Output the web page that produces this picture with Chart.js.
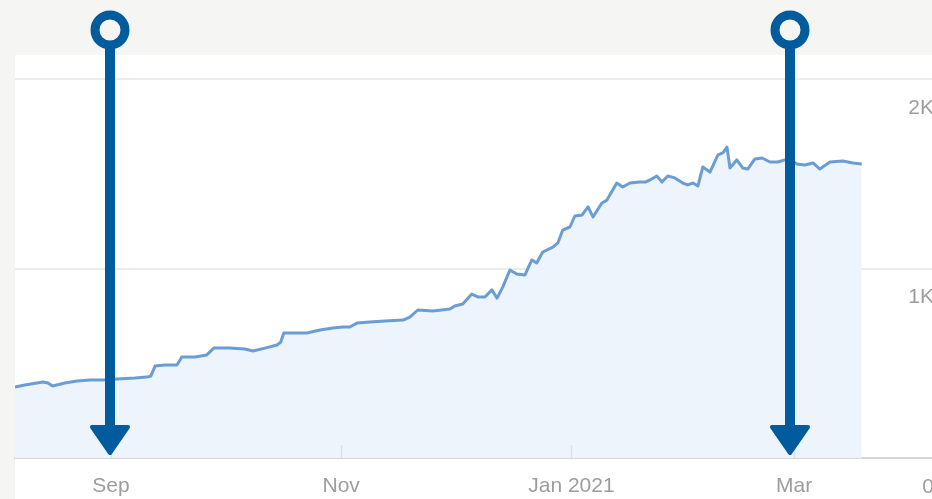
<!DOCTYPE html>
<html>
<head>
<meta charset="utf-8">
<script src="https://cdn.jsdelivr.net/npm/chart.js@4"></script>
<style>
  html, body { margin: 0; padding: 0; background: #f5f5f4; overflow: hidden; }
  #wrap { position: absolute; left: 0; top: 0; width: 960px; height: 499px; }
</style>
</head>
<body>
<div id="wrap"><canvas id="growthChart" width="960" height="499"></canvas></div>
<script>
// x values are days counted from 1 Sep 2020
const days = [
  -25.4, -22.8, -18.0, -16.7, -15.4, -12.2, -9.0, -5.6, -2.1, 1.6,
  6.4, 9.5, 10.6, 11.7, 14.3, 17.5, 18.8, 22.3, 25.4, 26.5,
  27.3, 31.5, 35.5, 37.6, 40.8, 44.0, 45.0, 45.8, 50.1, 51.9,
  55.4, 58.8, 61.5, 63.3, 65.2, 68.6, 72.6, 77.4, 79.2, 81.3,
  85.3, 89.8, 91.1, 93.2, 95.6, 97.2, 99.1, 100.9, 102.3, 103.8,
  105.7, 107.5, 109.7, 111.5, 112.8, 114.4, 117.1, 118.4, 119.7, 121.6,
  122.9, 124.8, 126.4, 127.7, 130.1, 131.4, 134.0, 135.6, 137.5, 140.1,
  141.5, 142.8, 144.6, 146.0, 147.5, 149.4, 151.5, 152.8, 154.2, 155.5,
  156.8, 158.7, 160.8, 162.1, 163.2, 164.0, 165.8, 167.4, 168.7, 170.6,
  172.5, 174.6, 176.7, 178.5, 180.1, 181.7, 183.8, 186.0, 187.8, 190.5,
  193.9, 196.6, 198.9
];
const values = [
  375, 385, 401, 396, 380, 396, 406, 412, 412, 417,
  422, 427, 433, 485, 491, 491, 533, 533, 544, 565,
  580, 580, 575, 565, 580, 596, 612, 660, 660, 660,
  675, 686, 691, 691, 712, 718, 723, 728, 744, 781,
  776, 786, 802, 813, 865, 850, 850, 887, 844, 902,
  992, 971, 966, 1045, 1029, 1087, 1113, 1135, 1203, 1219,
  1277, 1282, 1325, 1272, 1346, 1361, 1451, 1430, 1451, 1456,
  1456, 1467, 1488, 1456, 1488, 1478, 1451, 1441, 1451, 1435,
  1536, 1509, 1599, 1610, 1641, 1530, 1573, 1530, 1525, 1578,
  1583, 1562, 1562, 1573, 1573, 1551, 1546, 1557, 1525, 1562,
  1567, 1557, 1551
];
const tickDays = [0, 61, 122, 181];
const tickLabels = ['Sep', 'Nov', 'Jan 2021', 'Mar'];
const yTicks = [0, 1000, 2000];
const yTickLabels = ['0', '1K', '2K'];
const markerDays = [-0.3, 180];

const labelFont = { family: "'Liberation Sans', Arial, sans-serif", size: 21 };
const labelColor = '#9d9d9d';
const markerColor = '#015c9e';

// grey page with white panel behind the chart, arrows on top
const pagePlugin = {
  id: 'page',
  beforeDraw(chart) {
    const c = chart.ctx;
    c.save();
    c.fillStyle = '#f5f5f4';
    c.fillRect(0, 0, chart.width, chart.height);
    c.fillStyle = '#ffffff';
    c.fillRect(15, 55, chart.width - 15, chart.height - 55);
    c.restore();
  },
  afterDatasetsDraw(chart) {
    // short inner tick marks at the month labels
    const c = chart.ctx;
    const area = chart.chartArea;
    c.save();
    c.strokeStyle = '#e0e0e0';
    c.lineWidth = 1.5;
    tickDays.forEach(d => {
      const x = Math.round(chart.scales.x.getPixelForValue(d)) + 0.5;
      c.beginPath();
      c.moveTo(x, area.bottom - 13);
      c.lineTo(x, area.bottom);
      c.stroke();
    });
    c.restore();
  },
  afterDraw(chart) {
    const c = chart.ctx;
    const area = chart.chartArea;
    c.save();
    c.fillStyle = markerColor;
    c.strokeStyle = markerColor;
    markerDays.forEach(d => {
      const x = Math.round(chart.scales.x.getPixelForValue(d));
      const tip = area.bottom - 3;
      // ring
      c.lineWidth = 9;
      c.beginPath();
      c.arc(x, 30, 15, 0, Math.PI * 2);
      c.stroke();
      // shaft
      c.fillRect(x - 5, 44, 10, tip - 30 - 44 + 2);
      // head
      c.lineWidth = 4;
      c.lineJoin = 'round';
      c.beginPath();
      c.moveTo(x - 18, tip - 28);
      c.lineTo(x + 18, tip - 28);
      c.lineTo(x, tip - 2);
      c.closePath();
      c.fill();
      c.stroke();
    });
    c.restore();
  }
};

const ctx = document.getElementById('growthChart').getContext('2d');

new Chart(ctx, {
  type: 'line',
  data: {
    datasets: [{
      data: days.map((d, i) => ({ x: d, y: values[i] })),
      borderColor: '#6b9dd5',
      borderWidth: 3,
      backgroundColor: '#eef4fc',
      fill: 'origin',
      tension: 0,
      pointRadius: 0,
      borderJoinStyle: 'round'
    }]
  },
  options: {
    responsive: false,
    animation: false,
    devicePixelRatio: 1,
    layout: { padding: { left: 15, top: 79, right: 0, bottom: 0 } },
    plugins: {
      legend: { display: false },
      tooltip: { enabled: false }
    },
    scales: {
      x: {
        type: 'linear',
        min: -25.4,
        max: -25.4 + 945 / 3.775,
        afterFit: axis => { axis.height = 41; },
        afterBuildTicks: axis => { axis.ticks = tickDays.map(v => ({ value: v })); },
        grid: { display: false },
        border: { display: true, color: '#d6d6d6', width: 2 },
        ticks: {
          color: labelColor,
          font: labelFont,
          padding: 8,
          maxRotation: 0,
          autoSkip: false,
          callback: v => tickLabels[tickDays.indexOf(v)]
        }
      },
      y: {
        position: 'right',
        min: 0,
        max: 2000,
        afterFit: axis => { axis.width = 0; },
        afterBuildTicks: axis => { axis.ticks = yTicks.map(v => ({ value: v })); },
        grid: { color: '#ececec', lineWidth: 2, drawTicks: false },
        border: { display: false },
        ticks: {
          mirror: true,
          padding: -26,
          labelOffset: 29,
          color: labelColor,
          font: labelFont,
          callback: v => yTickLabels[yTicks.indexOf(v)]
        }
      }
    }
  },
  plugins: [pagePlugin]
});
</script>
</body>
</html>
